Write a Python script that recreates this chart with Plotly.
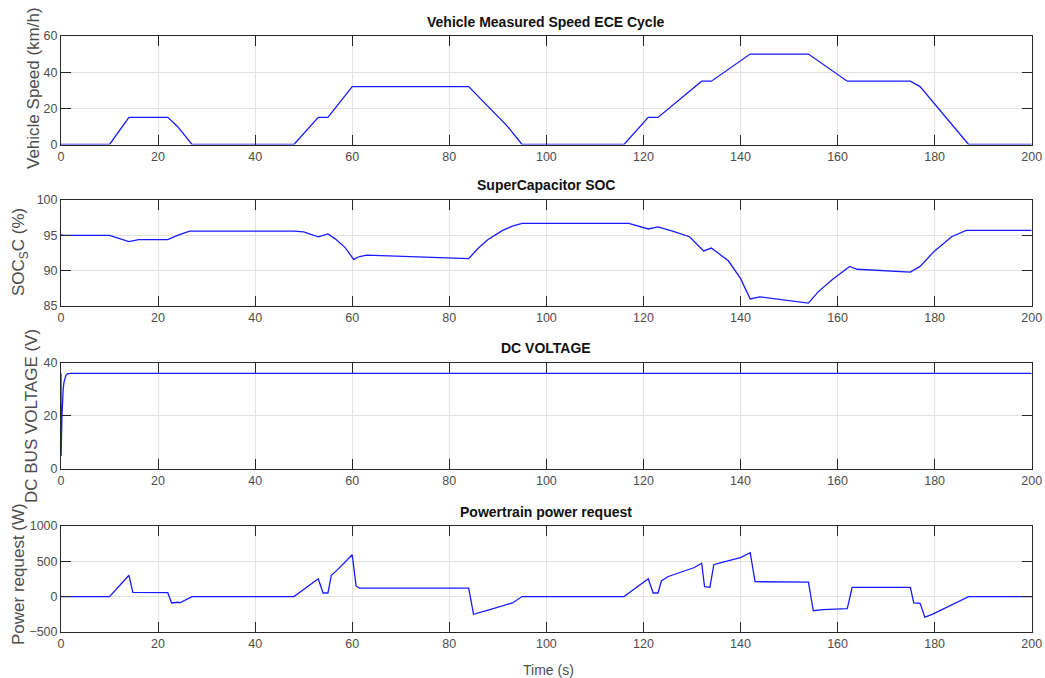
import plotly.graph_objects as go

# ---------------- data ----------------
speed_t = [0, 10, 14, 22, 24, 27, 48, 53, 55, 60, 84, 92, 95, 116, 121, 123, 132, 134,
           142, 154, 162, 175, 177, 187, 200]
speed_v = [0, 0, 15, 15, 10, 0, 0, 15, 15, 32, 32, 10, 0, 0, 15, 15, 35, 35,
           50, 50, 35, 35, 32, 0, 0]

soc_t = [0, 0.5, 10, 12, 14, 16, 22, 24, 26.5, 48, 50, 53, 55, 56.5, 58.5, 60.3, 61.5, 63,
         84, 86, 88, 91, 93, 95, 117, 121, 123, 126, 129.5, 132.4, 134, 137.5, 140, 142,
         144, 154, 156, 159, 162.5, 164, 175, 177, 180, 183.5, 186.5, 200]
soc_v = [95.1, 95.0, 95.0, 94.6, 94.1, 94.4, 94.4, 95.0, 95.6, 95.6, 95.5, 94.8, 95.2, 94.5, 93.3, 91.6, 92.0, 92.2,
         91.7, 93.2, 94.4, 95.7, 96.3, 96.7, 96.7, 95.9, 96.2, 95.6, 94.8, 92.8, 93.2, 91.4, 88.9, 86.0,
         86.3, 85.4, 87.0, 88.8, 90.6, 90.2, 89.8, 90.6, 92.8, 94.8, 95.7, 95.7]

dc_t = [0, 0.03, 0.1, 0.2, 0.3, 0.45, 0.6, 0.8, 1.0, 1.3, 1.6, 2.0, 200]
dc_v = [36, 5, 12, 20, 26, 30, 32.5, 34.2, 35.2, 35.8, 36, 36, 36]

pw_t = [0, 10, 14, 14.8, 22, 22.8, 24, 24.6, 27, 48, 53, 54, 55, 55.7, 57, 60, 60.8, 61.5,
        84, 85, 88, 92, 93, 95, 116, 121, 122, 123, 123.7, 125, 128, 130.5, 132, 132.6, 133.7,
        134.5, 136, 138, 140, 142, 143, 154, 155, 157, 160, 162, 163, 175, 175.7, 177, 178,
        179.5, 187, 200]
pw_v = [0, 0, 300, 60, 55, -90, -80, -85, 0, 0, 250, 50, 50, 300, 380, 590, 150, 120,
        120, -250, -190, -110, -90, 0, 0, 250, 50, 50, 220, 280, 350, 410, 470, 140, 130,
        450, 480, 520, 550, 620, 210, 205, -200, -185, -170, -170, 130, 130, -90, -95, -290,
        -250, 0, 0]

titles = ["Vehicle Measured Speed ECE Cycle", "SuperCapacitor SOC", "DC VOLTAGE",
          "Powertrain power request"]
ylabels = ["Vehicle Speed (km/h)", "SOC<sub>S</sub>C (%)", "DC BUS VOLTAGE (V)",
           "Power request (W)"]
yranges = [[0, 60], [85, 100], [0, 40], [-500, 1000]]
ydticks = [20, 5, 20, 500]

# ---------------- layout (page pixel positions) ----------------
W, H = 1045, 678


def fx(px):
    return px / W


def fy(py):
    return 1 - py / H


rows_px = [(36, 144.5), (200, 306), (362.7, 469), (525.7, 632)]
title_y_px = [22, 185, 348, 512]
ylabel_x_px = [33, 20, 31, 18]
ylabel_y_px = [88, 252, 416, 574]

FONT = "Liberation Sans, Arial, Helvetica, sans-serif"
TICKC = "#4d4d4d"
LINEC = "#262626"
GRIDC = "#e3e3e3"

fig = go.Figure()
series = [(speed_t, speed_v), (soc_t, soc_v), (dc_t, dc_v), (pw_t, pw_v)]
for i, (t, v) in enumerate(series):
    n = "" if i == 0 else str(i + 1)
    fig.add_trace(go.Scatter(x=t, y=v, mode="lines", line=dict(color="#1a1aff", width=1.3),
                             xaxis="x" + n, yaxis="y" + n, showlegend=False, hoverinfo="skip"))

layout = dict(width=W, height=H, margin=dict(l=0, r=0, t=0, b=0, autoexpand=False),
              template="none",
              paper_bgcolor="white", plot_bgcolor="white", showlegend=False,
              font=dict(family=FONT, size=12, color=TICKC))
annotations = []
for i in range(4):
    n = "" if i == 0 else str(i + 1)
    top, bot = rows_px[i]
    layout["xaxis" + n] = dict(
        domain=[fx(61), fx(1031.7)], range=[0, 200], tick0=0, dtick=20, anchor="y" + n,
        showline=True, linecolor=LINEC, linewidth=1, mirror="ticks",
        ticks="inside", ticklen=10, tickcolor=LINEC, tickwidth=1,
        showgrid=True, gridcolor=GRIDC, gridwidth=1, zeroline=False, automargin=False,
        tickfont=dict(family=FONT, size=12.5, color=TICKC), fixedrange=True,
    )
    layout["yaxis" + n] = dict(
        domain=[fy(bot), fy(top)], range=yranges[i], tick0=yranges[i][0], dtick=ydticks[i],
        anchor="x" + n, showline=True, linecolor=LINEC, linewidth=1, mirror="ticks",
        ticks="inside", ticklen=10, tickcolor=LINEC, tickwidth=1,
        showgrid=True, gridcolor=GRIDC, gridwidth=1, zeroline=False, automargin=False,
        tickfont=dict(family=FONT, size=12.5, color=TICKC), fixedrange=True,
    )
    annotations.append(dict(text="<b>" + titles[i] + "</b>", xref="paper", yref="paper",
                            x=fx(546), y=fy(title_y_px[i]), showarrow=False,
                            xanchor="center", yanchor="middle",
                            font=dict(family=FONT, size=14, color="#111111")))
    annotations.append(dict(text=ylabels[i], xref="paper", yref="paper",
                            x=fx(ylabel_x_px[i]), y=fy(ylabel_y_px[i]), showarrow=False,
                            textangle=-90, xanchor="center", yanchor="middle",
                            font=dict(family=FONT, size=17, color=TICKC)))
annotations.append(dict(text="Time (s)", xref="paper", yref="paper", x=fx(548), y=fy(670),
                        showarrow=False, xanchor="center", yanchor="middle",
                        font=dict(family=FONT, size=14, color=TICKC)))
layout["annotations"] = annotations
fig.update_layout(**layout)

fig.write_html(
    "out.html",
    config={"displayModeBar": False, "staticPlot": True},
    post_script="document.body.style.margin='0';document.body.style.overflow='hidden';"
                "document.documentElement.style.overflow='hidden';",
)
